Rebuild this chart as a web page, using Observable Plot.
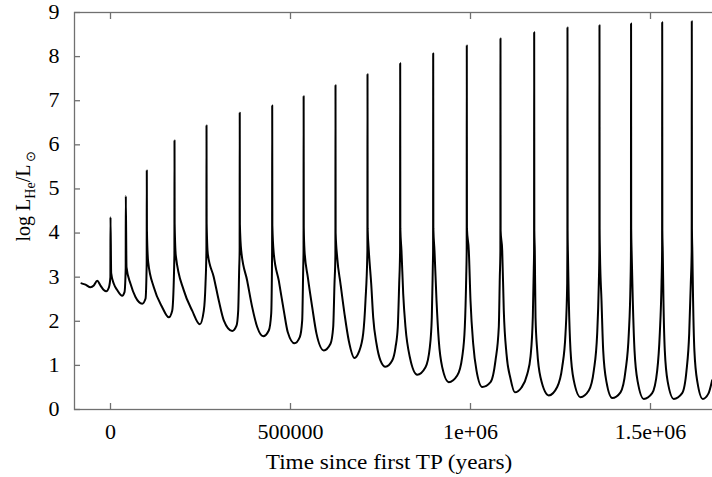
<!DOCTYPE html>
<html>
<head>
<meta charset="utf-8">
<script src="https://cdn.jsdelivr.net/npm/d3@7"></script>
<script src="https://cdn.jsdelivr.net/npm/@observablehq/plot@0.6"></script>
<style>
html, body { margin: 0; padding: 0; background: #fff; overflow: hidden; }
svg { max-width: none !important; display: block; }
</style>
</head>
<body>
<div id="chart"></div>
<script>
// ---- data ----
const xTicks = [0, 500000, 1000000, 1500000];
const xTickLabels = ["0", "500000", "1e+06", "1.5e+06"];
const yTicks = [0, 1, 2, 3, 4, 5, 6, 7, 8, 9];
const xTitle = "Time since first TP (years)";

// pre-pulse phase (years, log L_He/L_sun)
const preTime  = [-80600, -69400, -55600, -46400, -36900, -27800, -18600, -11900, -4700];
const preValue = [2.86, 2.83, 2.77, 2.81, 2.92, 2.81, 2.71, 2.68, 2.76];

// thermal pulses: time, peak, post-flash shoulder
const pulseTime = [0, 42500, 100800, 177800, 266700, 359000, 449200, 536500, 625000, 713900,
                   804700, 896400, 989700, 1083300, 1176900, 1269400, 1358300, 1446000, 1532500, 1614700];
const pulsePeak = [4.36, 4.84, 5.42, 6.10, 6.44, 6.73, 6.89, 7.10, 7.35, 7.60,
                   7.85, 8.07, 8.25, 8.41, 8.55, 8.66, 8.71, 8.75, 8.78, 8.80];
const pulseShoulder = [null, null, 4.06, 4.22, 4.22, 4.20, 4.17, 4.13, 4.00, 4.10,
                       4.10, 4.10, 4.10, 4.05, 4.05, 4.05, 4.10, 4.10, 4.05, 4.10];
// value of the flash just before it shoots up
const pulseOnset = [3.0, 3.2, 3.3, 3.5, 3.6, 3.6, 3.6, 3.6, 3.5, 3.6,
                    3.6, 3.6, 3.6, 3.6, 3.6, 3.6, 3.6, 3.6, 3.6, 3.6];

// interpulse phases
const curveTime = [
  1900, 9200, 18600, 32500, 38900,
  44400, 55600, 69400, 88100, 97200,
  104700, 120300, 143600, 161900, 171400,
  181400, 203600, 226900, 248100, 259200, 263900,
  270300, 286900, 300800, 314700, 338000, 350000, 354700, 357500,
  363100, 379700, 393600, 407500, 424200, 439700, 446400, 448500,
  453600, 467500, 481400, 492500, 511100, 525800, 532500, 535300,
  538900, 548100, 560300, 572200, 592500, 611100, 618600, 622200,
  629700, 638900, 650000, 661900, 677800, 689700, 701900, 708300,
  717500, 724200, 729700, 738900, 750000, 763900, 782500, 791700, 798000, 801900,
  808300, 813100, 819400, 831400, 851900, 875000, 887000, 892500, 895300,
  900000, 905600, 911900, 921400, 939700, 963100, 976900, 984200, 988100,
  995300, 1000000, 1007500, 1016700, 1032500, 1055600, 1069400, 1078600, 1081400,
  1088100, 1092500, 1100000, 1111100, 1123100, 1141700, 1157500, 1166700, 1173100, 1175800,
  1178600, 1180600, 1185300, 1194400, 1217500, 1240800, 1254700, 1263900, 1268600,
  1270500, 1273100, 1277800, 1286900, 1305600, 1328600, 1342500, 1351900, 1356400,
  1359500, 1363900, 1368600, 1377800, 1393600, 1416700, 1430600, 1439700, 1444400,
  1447500, 1450800, 1455600, 1464700, 1481400, 1504700, 1518600, 1525800, 1530600,
  1534000, 1536000, 1539700, 1548000, 1564700, 1588000, 1600000, 1607500, 1611900,
  1616200, 1618300, 1621900, 1630300, 1645300, 1660800, 1671100
];
const curveValue = [
  3.09, 2.85, 2.71, 2.58, 2.66,
  3.23, 2.85, 2.55, 2.40, 2.51,
  3.34, 2.77, 2.32, 2.09, 2.24,
  3.49, 2.70, 2.24, 1.93, 2.24, 2.85,
  3.53, 3.00, 2.47, 2.02, 1.78, 1.90, 2.24, 3.20,
  3.60, 2.92, 2.32, 1.87, 1.66, 1.79, 2.17, 3.20,
  3.53, 2.92, 2.24, 1.75, 1.50, 1.64, 2.02, 3.20,
  3.60, 3.00, 2.32, 1.72, 1.34, 1.49, 1.87, 2.85,
  3.45, 2.85, 2.17, 1.56, 1.17, 1.30, 1.72, 2.47,
  3.60, 2.85, 2.09, 1.49, 1.11, 0.97, 1.11, 1.41, 1.87, 2.85,
  3.60, 2.62, 1.87, 1.19, 0.79, 0.96, 1.41, 2.09, 3.23,
  3.60, 2.47, 1.56, 0.96, 0.62, 0.77, 1.19, 1.87, 3.00,
  3.60, 2.47, 1.49, 0.88, 0.51, 0.62, 1.11, 1.87, 3.00,
  3.60, 2.24, 1.26, 0.70, 0.39, 0.50, 0.80, 1.20, 2.10, 3.20,
  3.60, 2.09, 1.34, 0.73, 0.32, 0.51, 0.96, 1.72, 2.86,
  3.60, 2.47, 1.34, 0.66, 0.28, 0.43, 0.88, 1.72, 2.85,
  3.60, 2.47, 1.34, 0.62, 0.26, 0.39, 0.88, 1.72, 2.85,
  3.60, 2.47, 1.34, 0.62, 0.24, 0.37, 0.88, 1.72, 2.85,
  3.60, 2.47, 1.34, 0.62, 0.24, 0.37, 0.88, 1.72, 2.85,
  3.60, 2.47, 1.34, 0.62, 0.24, 0.36, 0.66
];

// ---- build the line table ----
const pts = [];
preTime.forEach((t, i) => pts.push({t, v: preValue[i]}));
pulseTime.forEach((t, i) => {
  pts.push({t: t - 300, v: pulseOnset[i]});
  pts.push({t, v: pulsePeak[i]});
  if (pulseShoulder[i] != null) pts.push({t: t + 400, v: pulseShoulder[i]});
});
curveTime.forEach((t, i) => pts.push({t, v: curveValue[i]}));
pts.sort((a, b) => a.t - b.t);

const gray = "#707070";
const plot = Plot.plot({
  width: 720,
  height: 477,
  marginLeft: 74,
  marginRight: 0,
  marginTop: 12,
  marginBottom: 68,
  style: {fontFamily: "'Liberation Serif', 'Times New Roman', serif", fontSize: "20px", background: "#fff", color: "#000"},
  x: {domain: [-100000, 1694444]},
  y: {domain: [0, 9]},
  marks: [
    Plot.frame({stroke: gray, strokeWidth: 1.3}),
    Plot.axisY(yTicks, {tickSize: -6, fill: "none", stroke: gray, strokeWidth: 1.3, label: null}),
    Plot.axisY(yTicks, {tickSize: 0, tickPadding: 15, fill: "#000", stroke: "none", label: null, tickFormat: d => String(d)}),
    Plot.axisX(xTicks, {anchor: "bottom", tickSize: -6, fill: "none", stroke: gray, strokeWidth: 1.3, label: null}),
    Plot.axisX(xTicks, {anchor: "top", tickSize: -6, fill: "none", stroke: gray, strokeWidth: 1.3, label: null}),
    Plot.axisX(xTicks, {anchor: "bottom", tickSize: 0, tickPadding: 15, fill: "#000", stroke: "none", label: null,
      tickFormat: d => xTickLabels[xTicks.indexOf(d)]}),
    Plot.line(pts, {x: "t", y: "v", stroke: "#000", strokeWidth: 2, curve: "monotone-x"})
  ]
});

const svg = d3.select(plot);
// widen tick-label glyphs slightly, as in the reference rendering
svg.selectAll("g[aria-label$='tick label'] text").each(function() {
  const tr = this.getAttribute("transform") || "";
  this.setAttribute("transform", tr + " scale(1.1,1)");
});
// x title
svg.append("text")
  .attr("transform", "translate(389,469) scale(1.16,1)")
  .attr("text-anchor", "middle")
  .attr("fill", "#000")
  .text(xTitle);
// y title with subscripts
const yt = svg.append("text")
  .attr("transform", "translate(30,196) rotate(-90)")
  .attr("text-anchor", "middle")
  .attr("fill", "#000");
yt.append("tspan").text("log L");
yt.append("tspan").attr("font-size", "14px").attr("dy", "5").text("He");
yt.append("tspan").attr("dy", "-5").text("/L");
yt.append("tspan").attr("font-size", "13px").attr("dy", "5").attr("dx", "3").text("⊙");

document.getElementById("chart").appendChild(plot);
</script>
</body>
</html>
